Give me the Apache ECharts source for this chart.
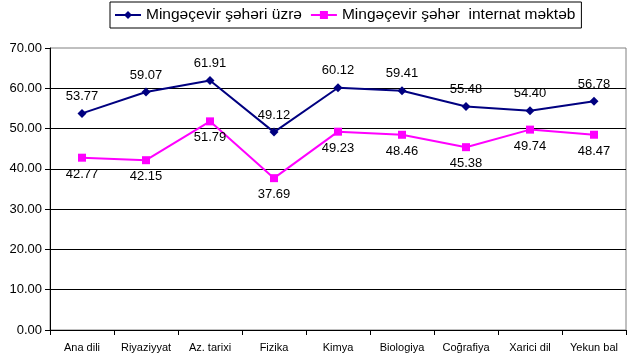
<!DOCTYPE html>
<html><head><meta charset="utf-8">
<script src="https://cdn.jsdelivr.net/npm/echarts@6/dist/echarts.min.js"></script>
<style>html,body{margin:0;padding:0;background:#fff}#c{width:631px;height:362px}</style>
</head><body><div id="c"></div>
<script>
const categories = ["Ana dili","Riyaziyyat","Az. tarixi","Fizika","Kimya","Biologiya","Coğrafiya","Xarici dil","Yekun bal"];
const cityValues = [53.77,59.07,61.91,49.12,60.12,59.41,55.48,54.40,56.78];
const schoolValues = [42.77,42.15,51.79,37.69,49.23,48.46,45.38,49.74,48.47];
const seriesNames = ["Mingəçevir şəhəri üzrə","Mingəçevir şəhər  internat məktəb"];

const chart = echarts.init(document.getElementById('c'));
const font = 'Arial, "Liberation Sans", sans-serif';
chart.setOption({
  animation:false,
  textStyle:{fontFamily:font},
  legend:{
    left:110, top:2, padding:[5,6,5,4], itemGap:8, itemWidth:26, itemHeight:10,
    borderColor:'#000', borderWidth:1,
    textStyle:{fontSize:15.5, color:'#000', fontFamily:font},
    data:seriesNames
  },
  grid:{left:50,right:5,top:48,bottom:32,show:true,borderColor:'#808080',borderWidth:1,containLabel:false},
  xAxis:{
    type:'category', data:categories, boundaryGap:true,
    axisLine:{lineStyle:{color:'#000',width:1}},
    axisTick:{show:true,interval:0,length:5,lineStyle:{color:'#000'}},
    axisLabel:{interval:0,color:'#000',fontSize:11,margin:12,fontFamily:font}
  },
  yAxis:{
    type:'value', min:0, max:70, interval:10,
    axisLine:{show:true,lineStyle:{color:'#000'}},
    axisTick:{show:true,length:5,lineStyle:{color:'#000'}},
    axisLabel:{color:'#000',fontSize:13,margin:8,formatter:v=>v.toFixed(2),fontFamily:font},
    splitLine:{show:true,showMaxLine:false,lineStyle:{color:'#000',width:1}}
  },
  series:[
    {name:seriesNames[0],type:'line',data:cityValues,
     symbol:'diamond',symbolSize:9,
     lineStyle:{color:'#000080',width:2},itemStyle:{color:'#000080'},
     label:{show:true,position:'top',distance:6,color:'#000',fontSize:13,fontFamily:font,formatter:p=>p.value.toFixed(2)}},
    {name:seriesNames[1],type:'line',data:schoolValues,
     symbol:'rect',symbolSize:8,
     lineStyle:{color:'#FF00FF',width:2},itemStyle:{color:'#FF00FF'},
     label:{show:true,position:'bottom',distance:6,color:'#000',fontSize:13,fontFamily:font,formatter:p=>p.value.toFixed(2)}}
  ]
});
</script></body></html>
